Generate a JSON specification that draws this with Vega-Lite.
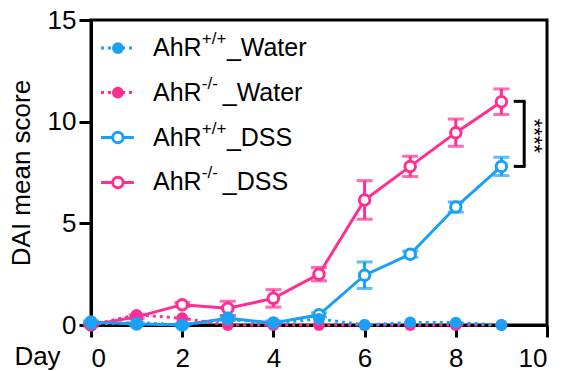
{
  "$schema": "https://vega.github.io/schema/vega-lite/v6.json",
  "width": 456,
  "height": 305,
  "autosize": "none",
  "padding": {"left": 91, "top": 20, "right": 15, "bottom": 46},
  "background": "white",
  "config": {
    "font": "Liberation Sans",
    "view": {"stroke": "black", "strokeWidth": 3},
    "axis": {
      "domainColor": "black", "domainWidth": 3, "tickColor": "black", "tickWidth": 3, "tickSize": 12,
      "labelFont": "Liberation Sans", "labelFontSize": 26, "labelColor": "black",
      "titleFont": "Liberation Sans", "titleFontSize": 26, "titleFontWeight": "normal", "titleColor": "black",
      "grid": false
    },
    "text": {"font": "Liberation Sans", "color": "black"}
  },
  "datasets": {
    "dai": [
      {"day": 0, "group": "AhR-/-_DSS", "treatment": "DSS", "mean": 0.0, "err": 0.05},
      {"day": 1, "group": "AhR-/-_DSS", "treatment": "DSS", "mean": 0.4, "err": 0.1},
      {"day": 2, "group": "AhR-/-_DSS", "treatment": "DSS", "mean": 1.0, "err": 0.1},
      {"day": 3, "group": "AhR-/-_DSS", "treatment": "DSS", "mean": 0.82, "err": 0.35},
      {"day": 4, "group": "AhR-/-_DSS", "treatment": "DSS", "mean": 1.31, "err": 0.43},
      {"day": 5, "group": "AhR-/-_DSS", "treatment": "DSS", "mean": 2.5, "err": 0.33},
      {"day": 6, "group": "AhR-/-_DSS", "treatment": "DSS", "mean": 6.15, "err": 0.95},
      {"day": 7, "group": "AhR-/-_DSS", "treatment": "DSS", "mean": 7.8, "err": 0.5},
      {"day": 8, "group": "AhR-/-_DSS", "treatment": "DSS", "mean": 9.46, "err": 0.67},
      {"day": 9, "group": "AhR-/-_DSS", "treatment": "DSS", "mean": 10.98, "err": 0.63},
      {"day": 0, "group": "AhR+/+_DSS", "treatment": "DSS", "mean": 0.15, "err": 0.05},
      {"day": 1, "group": "AhR+/+_DSS", "treatment": "DSS", "mean": 0.05, "err": 0.05},
      {"day": 2, "group": "AhR+/+_DSS", "treatment": "DSS", "mean": 0.0, "err": 0.05},
      {"day": 3, "group": "AhR+/+_DSS", "treatment": "DSS", "mean": 0.33, "err": 0.1},
      {"day": 4, "group": "AhR+/+_DSS", "treatment": "DSS", "mean": 0.1, "err": 0.1},
      {"day": 5, "group": "AhR+/+_DSS", "treatment": "DSS", "mean": 0.5, "err": 0.1},
      {"day": 6, "group": "AhR+/+_DSS", "treatment": "DSS", "mean": 2.45, "err": 0.65},
      {"day": 7, "group": "AhR+/+_DSS", "treatment": "DSS", "mean": 3.48, "err": 0.15},
      {"day": 8, "group": "AhR+/+_DSS", "treatment": "DSS", "mean": 5.8, "err": 0.25},
      {"day": 9, "group": "AhR+/+_DSS", "treatment": "DSS", "mean": 7.8, "err": 0.45},
      {"day": 0, "group": "AhR-/-_Water", "treatment": "Water", "mean": 0.0, "err": 0},
      {"day": 1, "group": "AhR-/-_Water", "treatment": "Water", "mean": 0.5, "err": 0},
      {"day": 2, "group": "AhR-/-_Water", "treatment": "Water", "mean": 0.33, "err": 0},
      {"day": 3, "group": "AhR-/-_Water", "treatment": "Water", "mean": 0.0, "err": 0},
      {"day": 4, "group": "AhR-/-_Water", "treatment": "Water", "mean": 0.0, "err": 0},
      {"day": 5, "group": "AhR-/-_Water", "treatment": "Water", "mean": 0.0, "err": 0},
      {"day": 6, "group": "AhR-/-_Water", "treatment": "Water", "mean": 0.0, "err": 0},
      {"day": 7, "group": "AhR-/-_Water", "treatment": "Water", "mean": 0.0, "err": 0},
      {"day": 8, "group": "AhR-/-_Water", "treatment": "Water", "mean": 0.0, "err": 0},
      {"day": 9, "group": "AhR-/-_Water", "treatment": "Water", "mean": 0.0, "err": 0},
      {"day": 0, "group": "AhR+/+_Water", "treatment": "Water", "mean": 0.05, "err": 0},
      {"day": 1, "group": "AhR+/+_Water", "treatment": "Water", "mean": 0.12, "err": 0},
      {"day": 2, "group": "AhR+/+_Water", "treatment": "Water", "mean": 0.0, "err": 0},
      {"day": 3, "group": "AhR+/+_Water", "treatment": "Water", "mean": 0.28, "err": 0},
      {"day": 4, "group": "AhR+/+_Water", "treatment": "Water", "mean": 0.08, "err": 0},
      {"day": 5, "group": "AhR+/+_Water", "treatment": "Water", "mean": 0.3, "err": 0},
      {"day": 6, "group": "AhR+/+_Water", "treatment": "Water", "mean": 0.0, "err": 0},
      {"day": 7, "group": "AhR+/+_Water", "treatment": "Water", "mean": 0.13, "err": 0},
      {"day": 8, "group": "AhR+/+_Water", "treatment": "Water", "mean": 0.12, "err": 0},
      {"day": 9, "group": "AhR+/+_Water", "treatment": "Water", "mean": 0.0, "err": 0}
    ],
    "legend": [
      {"group": "AhR+/+_Water", "base": "AhR", "sup": "+/+", "suffix": "_Water"},
      {"group": "AhR-/-_Water", "base": "AhR", "sup": "-/-", "suffix": "_Water"},
      {"group": "AhR+/+_DSS", "base": "AhR", "sup": "+/+", "suffix": "_DSS"},
      {"group": "AhR-/-_DSS", "base": "AhR", "sup": "-/-", "suffix": "_DSS"}
    ],
    "sig": [
      {"label": "****", "high": 11.0, "low": 7.8}
    ]
  },
  "layer": [
    {
      "data": {"name": "dai"},
      "transform": [{"filter": "datum.treatment === 'DSS'"}],
      "mark": {"type": "errorbar", "thickness": 3, "ticks": {"size": 16, "thickness": 3}},
      "encoding": {
        "x": {"field": "day", "type": "quantitative",
          "scale": {"domain": [0, 10], "nice": false},
          "axis": {"values": [0, 2, 4, 6, 8, 10], "labelPadding": 8, "title": "Day", "titleX": -54, "titleY": 39, "titleAlign": "center", "titleBaseline": "alphabetic"}},
        "y": {"field": "mean", "type": "quantitative",
          "scale": {"domain": [0, 15], "nice": false},
          "axis": {"values": [0, 5, 10, 15], "labelPadding": 3, "title": "DAI mean score", "titlePadding": 13}},
        "yError": {"field": "err"},
        "color": {"field": "group", "type": "nominal", "legend": null,
          "scale": {"domain": ["AhR+/+_Water", "AhR-/-_Water", "AhR+/+_DSS", "AhR-/-_DSS"],
            "range": ["#1AA0F4", "#FF2E93", "#1AA0F4", "#FF2E93"]}}
      }
    },
    {
      "data": {"name": "dai"},
      "transform": [{"filter": "datum.treatment === 'DSS'"}],
      "encoding": {
        "x": {"field": "day", "type": "quantitative"},
        "y": {"field": "mean", "type": "quantitative"},
        "color": {"field": "group", "type": "nominal"},
        "detail": {"field": "group"},
        "order": {"field": "day"}
      },
      "layer": [
        {"mark": {"type": "line", "strokeWidth": 3}},
        {"mark": {"type": "point", "shape": "circle", "filled": false, "fill": "white", "fillOpacity": 1, "opacity": 1, "strokeWidth": 3, "size": 110}}
      ]
    },
    {
      "data": {"name": "dai"},
      "transform": [{"filter": "datum.treatment === 'Water'"}],
      "encoding": {
        "x": {"field": "day", "type": "quantitative"},
        "y": {"field": "mean", "type": "quantitative"},
        "color": {"field": "group", "type": "nominal"},
        "detail": {"field": "group"},
        "order": {"field": "day"}
      },
      "layer": [
        {"mark": {"type": "line", "strokeWidth": 3, "strokeDash": [3, 4]}},
        {"mark": {"type": "point", "shape": "circle", "filled": true, "opacity": 1, "size": 140}}
      ]
    },
    {
      "data": {"name": "sig"},
      "layer": [
        {"mark": {"type": "rule", "color": "black", "strokeWidth": 3},
          "encoding": {"x": {"datum": 9.5, "type": "quantitative"}, "y": {"field": "high", "type": "quantitative"}, "y2": {"field": "low"}}},
        {"mark": {"type": "rule", "color": "black", "strokeWidth": 3},
          "encoding": {"x": {"datum": 9.27, "type": "quantitative"}, "x2": {"datum": 9.53}, "y": {"field": "high", "type": "quantitative"}}},
        {"mark": {"type": "rule", "color": "black", "strokeWidth": 3},
          "encoding": {"x": {"datum": 9.27, "type": "quantitative"}, "x2": {"datum": 9.53}, "y": {"field": "low", "type": "quantitative"}}},
        {"mark": {"type": "text", "angle": 90, "fontSize": 22, "align": "center", "baseline": "middle", "color": "black"},
          "encoding": {"x": {"datum": 9.72, "type": "quantitative"}, "y": {"datum": 9.3, "type": "quantitative"}, "text": {"field": "label"}}}
      ]
    },
    {
      "data": {"name": "legend"},
      "transform": [{"filter": "datum.group === 'AhR+/+_Water'"}],
      "layer": [
        {"mark": {"type": "rule", "strokeWidth": 3, "strokeDash": [3, 4]}, "encoding": {"x": {"datum": 0.22, "type": "quantitative"}, "x2": {"datum": 0.94}, "y": {"datum": 13.62, "type": "quantitative"}, "color": {"field": "group", "type": "nominal"}}},
        {"mark": {"type": "point", "shape": "circle", "filled": true, "opacity": 1, "size": 140}, "encoding": {"x": {"datum": 0.59, "type": "quantitative"}, "y": {"datum": 13.62, "type": "quantitative"}, "color": {"field": "group", "type": "nominal"}}},
        {"mark": {"type": "text", "align": "left", "baseline": "middle", "fontSize": 25, "color": "black"}, "encoding": {"x": {"datum": 1.36, "type": "quantitative"}, "y": {"datum": 13.62, "type": "quantitative"}, "text": {"field": "base"}}},
        {"mark": {"type": "text", "align": "left", "baseline": "middle", "fontSize": 17, "dy": -9, "color": "black"}, "encoding": {"x": {"datum": 2.43, "type": "quantitative"}, "y": {"datum": 13.62, "type": "quantitative"}, "text": {"field": "sup"}}},
        {"mark": {"type": "text", "align": "left", "baseline": "middle", "fontSize": 25, "color": "black"}, "encoding": {"x": {"datum": 2.98, "type": "quantitative"}, "y": {"datum": 13.62, "type": "quantitative"}, "text": {"field": "suffix"}}}
      ]
    },
    {
      "data": {"name": "legend"},
      "transform": [{"filter": "datum.group === 'AhR-/-_Water'"}],
      "layer": [
        {"mark": {"type": "rule", "strokeWidth": 3, "strokeDash": [3, 4]}, "encoding": {"x": {"datum": 0.22, "type": "quantitative"}, "x2": {"datum": 0.94}, "y": {"datum": 11.43, "type": "quantitative"}, "color": {"field": "group", "type": "nominal"}}},
        {"mark": {"type": "point", "shape": "circle", "filled": true, "opacity": 1, "size": 140}, "encoding": {"x": {"datum": 0.59, "type": "quantitative"}, "y": {"datum": 11.43, "type": "quantitative"}, "color": {"field": "group", "type": "nominal"}}},
        {"mark": {"type": "text", "align": "left", "baseline": "middle", "fontSize": 25, "color": "black"}, "encoding": {"x": {"datum": 1.36, "type": "quantitative"}, "y": {"datum": 11.43, "type": "quantitative"}, "text": {"field": "base"}}},
        {"mark": {"type": "text", "align": "left", "baseline": "middle", "fontSize": 17, "dy": -9, "color": "black"}, "encoding": {"x": {"datum": 2.43, "type": "quantitative"}, "y": {"datum": 11.43, "type": "quantitative"}, "text": {"field": "sup"}}},
        {"mark": {"type": "text", "align": "left", "baseline": "middle", "fontSize": 25, "color": "black"}, "encoding": {"x": {"datum": 2.89, "type": "quantitative"}, "y": {"datum": 11.43, "type": "quantitative"}, "text": {"field": "suffix"}}}
      ]
    },
    {
      "data": {"name": "legend"},
      "transform": [{"filter": "datum.group === 'AhR+/+_DSS'"}],
      "layer": [
        {"mark": {"type": "rule", "strokeWidth": 3}, "encoding": {"x": {"datum": 0.22, "type": "quantitative"}, "x2": {"datum": 0.94}, "y": {"datum": 9.22, "type": "quantitative"}, "color": {"field": "group", "type": "nominal"}}},
        {"mark": {"type": "point", "shape": "circle", "filled": false, "fill": "white", "fillOpacity": 1, "opacity": 1, "strokeWidth": 3, "size": 110}, "encoding": {"x": {"datum": 0.59, "type": "quantitative"}, "y": {"datum": 9.22, "type": "quantitative"}, "color": {"field": "group", "type": "nominal"}}},
        {"mark": {"type": "text", "align": "left", "baseline": "middle", "fontSize": 25, "color": "black"}, "encoding": {"x": {"datum": 1.36, "type": "quantitative"}, "y": {"datum": 9.22, "type": "quantitative"}, "text": {"field": "base"}}},
        {"mark": {"type": "text", "align": "left", "baseline": "middle", "fontSize": 17, "dy": -9, "color": "black"}, "encoding": {"x": {"datum": 2.43, "type": "quantitative"}, "y": {"datum": 9.22, "type": "quantitative"}, "text": {"field": "sup"}}},
        {"mark": {"type": "text", "align": "left", "baseline": "middle", "fontSize": 25, "color": "black"}, "encoding": {"x": {"datum": 2.98, "type": "quantitative"}, "y": {"datum": 9.22, "type": "quantitative"}, "text": {"field": "suffix"}}}
      ]
    },
    {
      "data": {"name": "legend"},
      "transform": [{"filter": "datum.group === 'AhR-/-_DSS'"}],
      "layer": [
        {"mark": {"type": "rule", "strokeWidth": 3}, "encoding": {"x": {"datum": 0.22, "type": "quantitative"}, "x2": {"datum": 0.94}, "y": {"datum": 7.01, "type": "quantitative"}, "color": {"field": "group", "type": "nominal"}}},
        {"mark": {"type": "point", "shape": "circle", "filled": false, "fill": "white", "fillOpacity": 1, "opacity": 1, "strokeWidth": 3, "size": 110}, "encoding": {"x": {"datum": 0.59, "type": "quantitative"}, "y": {"datum": 7.01, "type": "quantitative"}, "color": {"field": "group", "type": "nominal"}}},
        {"mark": {"type": "text", "align": "left", "baseline": "middle", "fontSize": 25, "color": "black"}, "encoding": {"x": {"datum": 1.36, "type": "quantitative"}, "y": {"datum": 7.01, "type": "quantitative"}, "text": {"field": "base"}}},
        {"mark": {"type": "text", "align": "left", "baseline": "middle", "fontSize": 17, "dy": -9, "color": "black"}, "encoding": {"x": {"datum": 2.43, "type": "quantitative"}, "y": {"datum": 7.01, "type": "quantitative"}, "text": {"field": "sup"}}},
        {"mark": {"type": "text", "align": "left", "baseline": "middle", "fontSize": 25, "color": "black"}, "encoding": {"x": {"datum": 2.89, "type": "quantitative"}, "y": {"datum": 7.01, "type": "quantitative"}, "text": {"field": "suffix"}}}
      ]
    }
  ]
}
